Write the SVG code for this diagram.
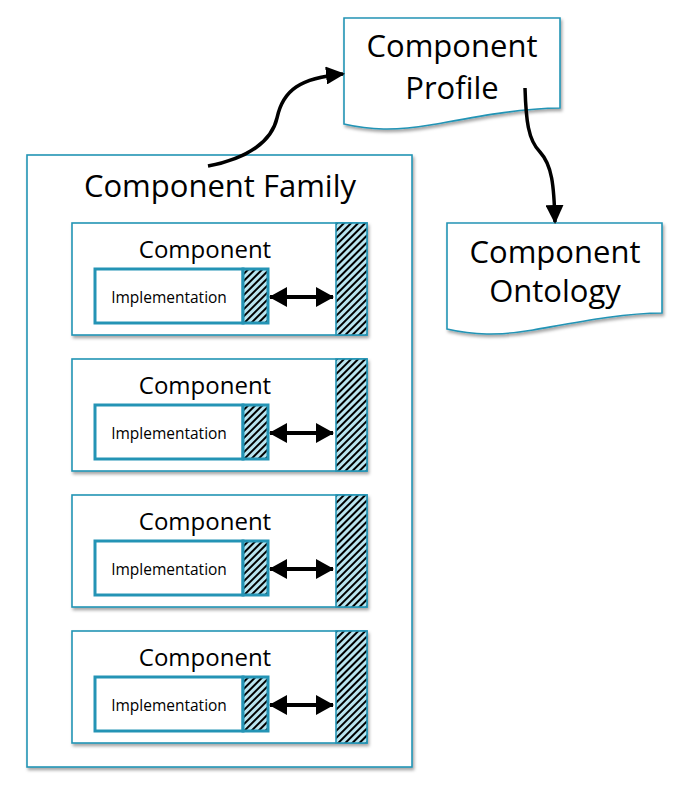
<svg xmlns="http://www.w3.org/2000/svg" width="691" height="794" viewBox="0 0 691 794">
<style>
.box{fill:#fff;stroke:#2494B5;stroke-width:1.6}
.impl{fill:#fff;stroke:#2494B5;stroke-width:3}
.hatch{fill:url(#hatch);stroke:#2494B5;stroke-width:1.6}
.hatchI{fill:url(#hatch);stroke:#2494B5;stroke-width:3}
.t{font-family:"Open Sans","Liberation Sans",sans-serif;fill:#000;text-anchor:middle}
.big{font-size:31px}
.mid{font-size:24px}
.small{font-size:15.5px}
.conn{fill:none;stroke:#000;stroke-width:3.5}
.dbl{fill:none;stroke:#000;stroke-width:4}
</style>
<defs>
<pattern id="hatch" patternUnits="userSpaceOnUse" width="5" height="5" patternTransform="rotate(45)">
<rect width="5" height="5" fill="#B9E4EF"/>
<line x1="1" y1="0" x2="1" y2="5" stroke="#000" stroke-width="2"/>
</pattern>
<filter id="sh" x="-10%" y="-10%" width="120%" height="120%">
<feDropShadow dx="1.5" dy="2.5" stdDeviation="1.8" flood-color="#000" flood-opacity="0.35"/>
</filter>
<marker id="ah" markerUnits="userSpaceOnUse" markerWidth="20" markerHeight="18" refX="17" refY="9" orient="auto">
<path d="M0,0 L19,9 L0,18 z" fill="#000"/>
</marker>
<marker id="ad" markerUnits="userSpaceOnUse" markerWidth="20" markerHeight="20" refX="17" refY="10" orient="auto-start-reverse">
<path d="M0,0 L18,10 L0,20 z" fill="#000"/>
</marker>
</defs>

<g id="component-family">
<rect class="box" x="27" y="155" width="385" height="612" filter="url(#sh)"/>
<text class="t big" x="220" y="197">Component Family</text>
</g>

<g id="component-1" transform="translate(0,0)">
<rect class="box" x="72" y="223" width="295" height="112" filter="url(#sh)"/>
<rect class="hatch" x="336" y="223" width="31" height="112"/>
<text class="t mid" x="205" y="258">Component</text>
<g id="implementation-1">
<rect class="impl" x="95" y="269" width="148" height="54"/>
<rect class="hatchI" x="243" y="269" width="25" height="54"/>
<text class="t small" x="169" y="303">Implementation</text>
</g>
</g>

<g id="component-2" transform="translate(0,136)">
<rect class="box" x="72" y="223" width="295" height="112" filter="url(#sh)"/>
<rect class="hatch" x="336" y="223" width="31" height="112"/>
<text class="t mid" x="205" y="258">Component</text>
<g id="implementation-2">
<rect class="impl" x="95" y="269" width="148" height="54"/>
<rect class="hatchI" x="243" y="269" width="25" height="54"/>
<text class="t small" x="169" y="303">Implementation</text>
</g>
</g>

<g id="component-3" transform="translate(0,272)">
<rect class="box" x="72" y="223" width="295" height="112" filter="url(#sh)"/>
<rect class="hatch" x="336" y="223" width="31" height="112"/>
<text class="t mid" x="205" y="258">Component</text>
<g id="implementation-3">
<rect class="impl" x="95" y="269" width="148" height="54"/>
<rect class="hatchI" x="243" y="269" width="25" height="54"/>
<text class="t small" x="169" y="303">Implementation</text>
</g>
</g>

<g id="component-4" transform="translate(0,408)">
<rect class="box" x="72" y="223" width="295" height="112" filter="url(#sh)"/>
<rect class="hatch" x="336" y="223" width="31" height="112"/>
<text class="t mid" x="205" y="258">Component</text>
<g id="implementation-4">
<rect class="impl" x="95" y="269" width="148" height="54"/>
<rect class="hatchI" x="243" y="269" width="25" height="54"/>
<text class="t small" x="169" y="303">Implementation</text>
</g>
</g>

<g id="component-profile">
<path class="box" filter="url(#sh)" d="M344,18 H560 V108 C 520,108 470,118 430,125 C 395,131 370,130 344,124 Z"/>
<text class="t big" x="452" y="57">Component</text>
<text class="t big" x="452" y="99">Profile</text>
</g>

<g id="component-ontology">
<path class="box" filter="url(#sh)" d="M447,223 H662 V313 C 622,313 573,323 533,330 C 498,336 473,335 447,329 Z"/>
<text class="t big" x="555" y="263">Component</text>
<text class="t big" x="555" y="302">Ontology</text>
</g>

<g id="connectors">
<path class="conn" marker-end="url(#ah)" d="M208,166 C 250,158 272,140 277,118 C 283,90 300,78 343,74"/>
<path class="conn" marker-end="url(#ah)" d="M525,88 C 526,120 528,140 540,152 C 552,165 554,185 555,222"/>
<path class="dbl" marker-start="url(#ad)" marker-end="url(#ad)" d="M270,297 H333"/>
<path class="dbl" marker-start="url(#ad)" marker-end="url(#ad)" d="M270,433 H333"/>
<path class="dbl" marker-start="url(#ad)" marker-end="url(#ad)" d="M270,569 H333"/>
<path class="dbl" marker-start="url(#ad)" marker-end="url(#ad)" d="M270,705 H333"/>
</g>
</svg>
